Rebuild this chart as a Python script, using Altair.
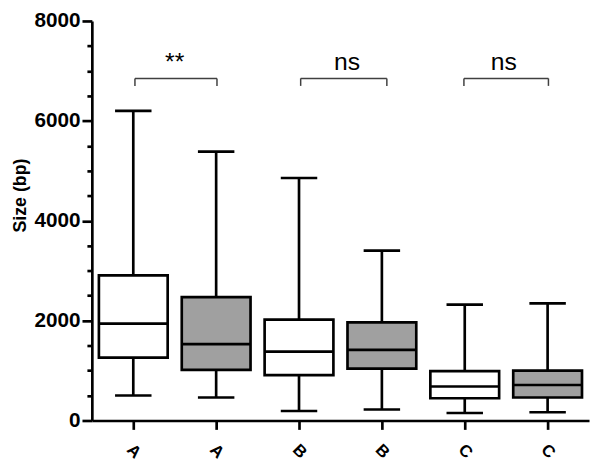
import altair as alt
import pandas as pd

# ---- data ----
labels = ["A", "A", "B", "B", "C", "C"]
fills = ["white", "grey", "white", "grey", "white", "grey"]
whisker_min = [500, 460, 190, 220, 150, 165]
q1 = [1260, 1015, 910, 1040, 445, 460]
median = [1940, 1530, 1380, 1415, 680, 710]
q3 = [2905, 2470, 2020, 1965, 990, 1000]
whisker_max = [6200, 5385, 4855, 3400, 2320, 2345]
y_title = "Size (bp)"

# significance brackets (x in category units, y in data units)
bracket_left = [0.52, 2.52, 4.49]
bracket_right = [1.51, 3.56, 5.51]
bracket_text = ["**", "ns", "ns"]
text_x = [1.0, 3.08, 4.97]
bracket_top = 6850
bracket_bottom = 6700
text_y = 7010

BOX_HALF = 0.415
CAP_HALF = 0.22
LW = 2.7

df = pd.DataFrame({
    "idx": list(range(len(labels))),
    "label": labels,
    "fill": fills,
    "lo": whisker_min,
    "q1": q1,
    "med": median,
    "q3": q3,
    "hi": whisker_max,
})

br = pd.DataFrame({
    "xl": bracket_left,
    "xr": bracket_right,
    "top": [bracket_top] * 3,
    "bot": [bracket_bottom] * 3,
})
tx = pd.DataFrame({"x": text_x, "t": bracket_text, "y": [text_y] * 3})

xscale = alt.Scale(domain=[0, 6], nice=False, zero=False)
yscale = alt.Scale(domain=[0, 8000], nice=False, zero=True)

label_expr = "[" + ",".join("'%s'" % l for l in labels) + "][floor(datum.value)]"

x_axis = alt.Axis(
    values=[i + 0.5 for i in range(len(labels))],
    labelExpr=label_expr,
    title=None,
)

y_axis = alt.Axis(
    values=list(range(0, 8001, 500)),
    labelExpr="datum.value % 2000 === 0 ? datum.label : ''",
    format="d",
    title=None,
    tickSize={"condition": {"test": "datum.value % 2000 === 0", "value": 10}, "value": 5},
)


def X(f):
    return alt.X(f, scale=xscale, axis=x_axis)


def Y(f):
    return alt.Y(f, scale=yscale, axis=y_axis)


base = alt.Chart(df).transform_calculate(
    pos="datum.idx + 0.5",
    bxl="datum.idx + 0.5 - %f" % BOX_HALF,
    bxr="datum.idx + 0.5 + %f" % BOX_HALF,
    cxl="datum.idx + 0.5 - %f" % CAP_HALF,
    cxr="datum.idx + 0.5 + %f" % CAP_HALF,
)

whisker = base.mark_rule(color="black", strokeWidth=LW).encode(
    x=X("pos:Q"), y=Y("lo:Q"), y2="hi:Q",
)
cap_lo = base.mark_rule(color="black", strokeWidth=LW).encode(
    x=X("cxl:Q"), x2="cxr:Q", y=Y("lo:Q"),
)
cap_hi = base.mark_rule(color="black", strokeWidth=LW).encode(
    x=X("cxl:Q"), x2="cxr:Q", y=Y("hi:Q"),
)
box = base.mark_rect(stroke="black", strokeWidth=LW).encode(
    x=X("bxl:Q"), x2="bxr:Q", y=Y("q1:Q"), y2="q3:Q",
    fill=alt.Fill("fill:N", scale=alt.Scale(domain=["white", "grey"], range=["#ffffff", "#a0a0a0"]), legend=None),
)
med = base.mark_rule(color="black", strokeWidth=LW).encode(
    x=X("bxl:Q"), x2="bxr:Q", y=Y("med:Q"),
)

bcol = "#404040"
b_h = alt.Chart(br).mark_rule(color=bcol, strokeWidth=1.5).encode(
    x=X("xl:Q"), x2="xr:Q", y=Y("top:Q"),
)
b_l = alt.Chart(br).mark_rule(color=bcol, strokeWidth=1.5).encode(
    x=X("xl:Q"), y=Y("top:Q"), y2="bot:Q",
)
b_r = alt.Chart(br).mark_rule(color=bcol, strokeWidth=1.5).encode(
    x=X("xr:Q"), y=Y("top:Q"), y2="bot:Q",
)
b_t = alt.Chart(tx).mark_text(
    font="Liberation Sans", fontSize=25, color="black", baseline="alphabetic", align="center"
).encode(
    x=X("x:Q"), y=Y("y:Q"), text="t:N",
)

title_df = pd.DataFrame({"t": [y_title]})
ytitle = alt.Chart(title_df).mark_text(
    font="Liberation Sans", fontSize=18, fontWeight="bold", color="black",
    angle=270, align="center", baseline="middle",
).encode(
    x=alt.value(-72), y=alt.value(177), text="t:N",
)

chart = alt.layer(
    whisker, cap_lo, cap_hi, box, med, b_h, b_l, b_r, b_t, ytitle
).properties(
    width=504,
    height=405,
    autosize=alt.AutoSizeParams(type="none"),
    padding={"left": 85, "top": 10, "right": 3, "bottom": 44},
    background="white",
).configure_view(
    stroke=None
).configure_axis(
    grid=False,
    domainColor="black",
    domainWidth=LW,
    tickColor="black",
    tickWidth=LW,
    labelFont="Liberation Sans",
    labelFontWeight="bold",
    labelColor="black",
).configure_axisX(
    tickSize=9,
    labelAngle=45,
    labelAlign="center",
    labelBaseline="middle",
    labelPadding=22,
    labelFontSize=17,
).configure_axisY(
    labelPadding=2,
    labelFontSize=21,
)

chart.save("out.html", embed_options={"renderer": "svg", "actions": False})
